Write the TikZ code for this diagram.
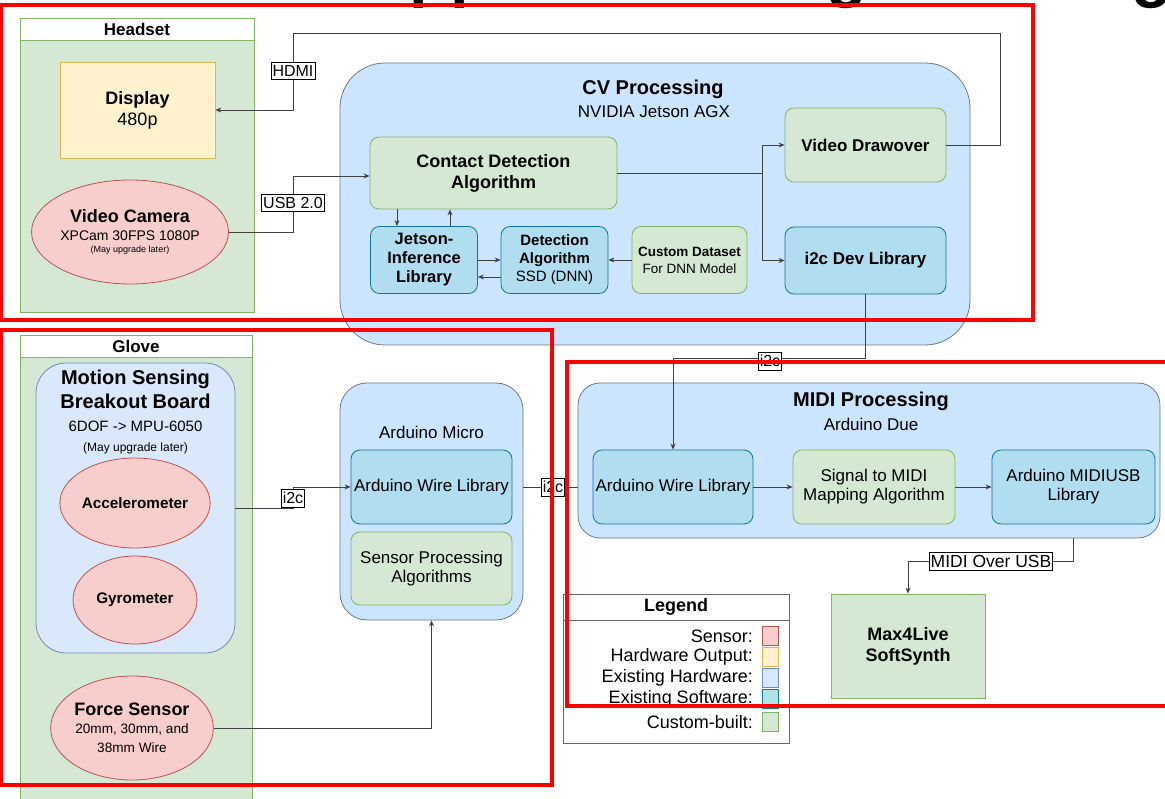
\documentclass[tikz,border=0pt]{standalone}
\usepackage{fontspec}
\setmainfont{Liberation Sans}
\usetikzlibrary{arrows.meta,shapes.geometric}
\definecolor{greenfill}{HTML}{D5E8D4}
\definecolor{greenline}{HTML}{82B366}
\definecolor{yelfill}{HTML}{FFF2CC}
\definecolor{yelline}{HTML}{D6B656}
\definecolor{pinkfill}{HTML}{F8CECC}
\definecolor{pinkline}{HTML}{B85450}
\definecolor{lbfill}{HTML}{DAE8FC}
\definecolor{lbline}{HTML}{6C8EBF}
\definecolor{contfill}{HTML}{CCE5FF}
\definecolor{contline}{HTML}{6D7A86}
\definecolor{tealfill}{HTML}{B1DDF0}
\definecolor{tealline}{HTML}{10739E}
\definecolor{legteal}{HTML}{B0E3E6}
\definecolor{legtealline}{HTML}{0E8088}
\definecolor{connc}{HTML}{404040}
\definecolor{legline}{HTML}{666666}
\newcommand{\fs}[2]{\fontsize{#1}{#2}\selectfont}
\begin{document}
\begin{tikzpicture}[x=1pt,y=-1pt,
  every node/.style={font=\fs{17}{19}},
  lane/.style={rectangle, draw=greenline, fill=greenfill, line width=0.8pt, anchor=north west},
  bx/.style={rectangle, rounded corners=9pt, line width=0.8pt, align=center, inner sep=2pt},
  cust/.style={bx, fill=greenfill, draw=greenline},
  sw/.style={bx, fill=tealfill, draw=tealline},
  cont/.style={rectangle, draw=contline, fill=contfill, line width=0.8pt},
  sensor/.style={ellipse, draw=pinkline, fill=pinkfill, align=center, inner sep=0pt, line width=0.8pt},
  conn/.style={draw=connc, line width=0.9pt},
  arr/.style={conn, -{Stealth[length=6pt,width=5pt]}},
  lbl/.style={draw=black, fill=white, inner xsep=1.5pt, inner ysep=3pt, line width=0.6pt, font=\fs{16}{18}},
  redbox/.style={draw=red, line width=4pt},
  swatch/.style={rectangle, minimum width=16pt, minimum height=19pt, line width=0.8pt, inner sep=0pt},
  legtxt/.style={anchor=east, inner sep=0pt, font=\fs{18}{20}},
  title/.style={font=\fs{67}{70}\bfseries, anchor=base west, inner sep=0pt}
]
\useasboundingbox (0,0) rectangle (1165,799);
\fill[white] (0,0) rectangle (1165,799);

% title fragments (cut off at the top edge)
\node[title] (tA) at (409,-5) {pp};
\node[title] (tB) at (826,-5) {g};
\node[title] (tC) at (1131,-5) {g};

% ---------- Headset lane
\node[lane, minimum width=234pt, minimum height=294pt] (headset) at (20,18) {};
\filldraw[fill=white, draw=greenline, line width=0.8pt] (20,18) rectangle (254,40);
\node[font=\fs{17}{19}\bfseries] (headsetT) at (137,29) {Headset};
\node[rectangle, draw=yelline, fill=yelfill, line width=0.8pt, minimum width=155pt, minimum height=96pt, align=center, font=\fs{18}{21}] (display) at (137.5,110) {\bfseries Display\\480p};
\node[sensor, minimum width=154pt, minimum height=104pt] (camera) at (130,232) {{\fs{18}{20}\bfseries Video Camera}\\[-1pt]{\fs{14}{16}XPCam 30FPS 1080P}\\[-7pt]{\fs{9}{11}(May upgrade later)}};

% ---------- CV processing
\node[cont, rounded corners=45pt, minimum width=630pt, minimum height=282pt] (cv) at (655,204) {};
\node[font=\fs{20}{22}\bfseries] (cvT) at (653,89) {CV Processing};
\node[font=\fs{17}{19}] (cvS) at (654,112) {NVIDIA Jetson AGX};
\node[cust, minimum width=247pt, minimum height=72pt, font=\fs{18}{21}\bfseries] (contact) at (493.5,173) {Contact Detection\\Algorithm};
\node[sw, minimum width=107pt, minimum height=67pt, font=\fs{16.5}{19}\bfseries] (jetson) at (424,260) {Jetson-\\Inference\\Library};
\node[sw, minimum width=107pt, minimum height=67pt, font=\fs{15}{18}] (detect) at (554.5,260) {\bfseries Detection\\\bfseries Algorithm\\SSD (DNN)};
\node[cust, minimum width=115pt, minimum height=67pt, font=\fs{13.5}{17}] (custom) at (689.5,260) {\bfseries Custom Dataset\\For DNN Model};
\node[cust, minimum width=161pt, minimum height=74pt, font=\fs{17}{19}\bfseries] (drawover) at (865.5,145) {Video Drawover};
\node[sw, minimum width=161pt, minimum height=67pt, font=\fs{17}{19}\bfseries] (i2cdev) at (865.5,260.5) {i2c Dev Library};

% ---------- Glove lane
\node[lane, minimum width=232pt, minimum height=480pt] (glove) at (20,335) {};
\filldraw[fill=white, draw=greenline, line width=0.8pt] (20,335) rectangle (252,357);
\node[font=\fs{17}{19}\bfseries] (gloveT) at (136,346) {Glove};
\node[rectangle, rounded corners=30pt, draw=lbline, fill=lbfill, line width=0.8pt, minimum width=199pt, minimum height=290pt] (motion) at (135.5,508) {};
\node[align=center, inner sep=0pt] (motionT) at (135.5,412) {{\fs{20}{23}\bfseries Motion Sensing}\\[5pt]{\fs{20}{23}\bfseries Breakout Board}\\[4pt]{\fs{15}{17}6DOF -> MPU-6050}\\[1pt]{\fs{12}{14}(May upgrade later)}};
\node[sensor, minimum width=124pt, minimum height=90pt, font=\fs{15.3}{18}\bfseries] (accel) at (135,503) {Accelerometer};
\node[sensor, minimum width=124pt, minimum height=88pt, font=\fs{15.3}{18}\bfseries] (gyro) at (135,600) {Gyrometer};
\node[sensor, minimum width=154pt, minimum height=104pt] (force) at (132,728) {{\fs{18}{20}\bfseries Force Sensor}\\[-1pt]{\fs{13.6}{16}20mm, 30mm, and}\\{\fs{13.6}{16}38mm Wire}};

% ---------- Arduino Micro
\node[cont, rounded corners=27pt, minimum width=183pt, minimum height=237pt] (micro) at (431.5,501.5) {};
\node (microT) at (431.5,432) {Arduino Micro};
\node[sw, minimum width=161pt, minimum height=74pt] (microwire) at (431.5,487) {Arduino Wire Library};
\node[cust, minimum width=161pt, minimum height=73pt] (sensproc) at (431.5,568.5) {Sensor Processing\\Algorithms};

% ---------- MIDI processing
\node[cont, rounded corners=22pt, minimum width=582pt, minimum height=155pt] (midi) at (869,460.5) {};
\node[font=\fs{20}{22}\bfseries] (midiT) at (871,401) {MIDI Processing};
\node (midiS) at (871,424) {Arduino Due};
\node[sw, minimum width=160pt, minimum height=74pt] (midiwire) at (673,487) {Arduino Wire Library};
\node[cust, minimum width=162pt, minimum height=74pt] (signal) at (874,487) {Signal to MIDI\\Mapping Algorithm};
\node[sw, minimum width=163pt, minimum height=74pt] (midiusb) at (1073.5,487) {Arduino MIDIUSB\\Library};

% ---------- Max4Live
\node[rectangle, draw=greenline, fill=greenfill, line width=0.8pt, minimum width=154pt, minimum height=104pt, align=center, font=\fs{18}{21}\bfseries] (max) at (908,646) {Max4Live\\SoftSynth};

% ---------- connectors
\coordinate (hA) at (1000,33);
\coordinate (hB) at (293,33);
\draw[arr] (drawover.east) -| (hA) -- (hB) |- (display.east);
\node[lbl] (hdmi) at (293,71) {HDMI};

\coordinate (uA) at (293,176);
\draw[arr] (camera.east) -| (uA) -- (uA -| contact.west);
\node[lbl] (usb) at (293,203) {USB 2.0};

\coordinate (split) at (762,173);
\draw[conn] (contact.east |- split) -- (split);
\draw[arr] (split) |- (drawover.west);
\draw[arr] (split) |- (i2cdev.west);

\draw[arr] ([xshift=-27pt]jetson.north |- contact.south) -- ([xshift=-27pt]jetson.north);
\draw[arr] ([xshift=26pt]jetson.north) -- ([xshift=26pt]jetson.north |- contact.south);
\draw[arr] (jetson.east) -- (detect.west);
\draw[arr] ([yshift=-17pt]detect.west) -- ([yshift=-17pt]jetson.east);
\draw[arr] (custom.west) -- (detect.east);

\coordinate (iA) at (865.5,358);
\draw[arr] (i2cdev.south) -- (iA) -| (midiwire.north);
\node[lbl] (i2cA) at (770,361) {i2c};

\coordinate (mA) at (293,487);
\draw[arr] (motion.east) -| (mA) -- (mA -| microwire.west);
\node[lbl] (i2cB) at (293,498) {i2c};

\draw[conn] (micro.east |- microwire.east) -- (midi.west |- microwire.east);
\node[lbl] (i2cC) at (553,487) {i2c};

\draw[arr] (force.east) -| (micro.south);

\draw[arr] (midiwire.east) -- (signal.west);
\draw[arr] (signal.east) -- (midiusb.west);

\coordinate (uB) at (1073.5,561);
\draw[conn] (midiusb.south |- midi.south) -- (uB);
\draw[arr] (uB) -| (max.north);
\node[lbl, font=\fs{17.5}{19}] (midiusbl) at (991,561) {MIDI Over USB};

% ---------- Legend
\node[rectangle, draw=legline, fill=white, line width=0.8pt, minimum width=226pt, minimum height=149pt, anchor=north west] (legend) at (563,594) {};
\draw[legline, line width=0.8pt] (563,620) -- (789,620);
\node[font=\fs{18}{20}\bfseries] (legT) at (676,607) {Legend};
\node[legtxt] (l1) at (753,636) {Sensor:};
\node[swatch, draw=pinkline, fill=pinkfill] (s1) at (770,636) {};
\node[legtxt] (l2) at (753,657) {Hardware Output:};
\node[swatch, draw=yelline, fill=yelfill] (s2) at (770,657) {};
\node[legtxt] (l3) at (753,678) {Existing Hardware:};
\node[swatch, draw=lbline, fill=lbfill] (s3) at (770,678) {};
\node[legtxt] (l4) at (753,699) {Existing Software:};
\node[swatch, draw=legtealline, fill=legteal] (s4) at (770,699) {};
\node[legtxt] (l5) at (753,722) {Custom-built:};
\node[swatch, draw=greenline, fill=greenfill] (s5) at (770,722) {};

% ---------- red annotation boxes
\draw[redbox] (1,5) rectangle (1033,320);
\draw[redbox] (1,330) rectangle (552,785);
\draw[redbox] (567,362) rectangle (1175,706);
\end{tikzpicture}
\end{document}
